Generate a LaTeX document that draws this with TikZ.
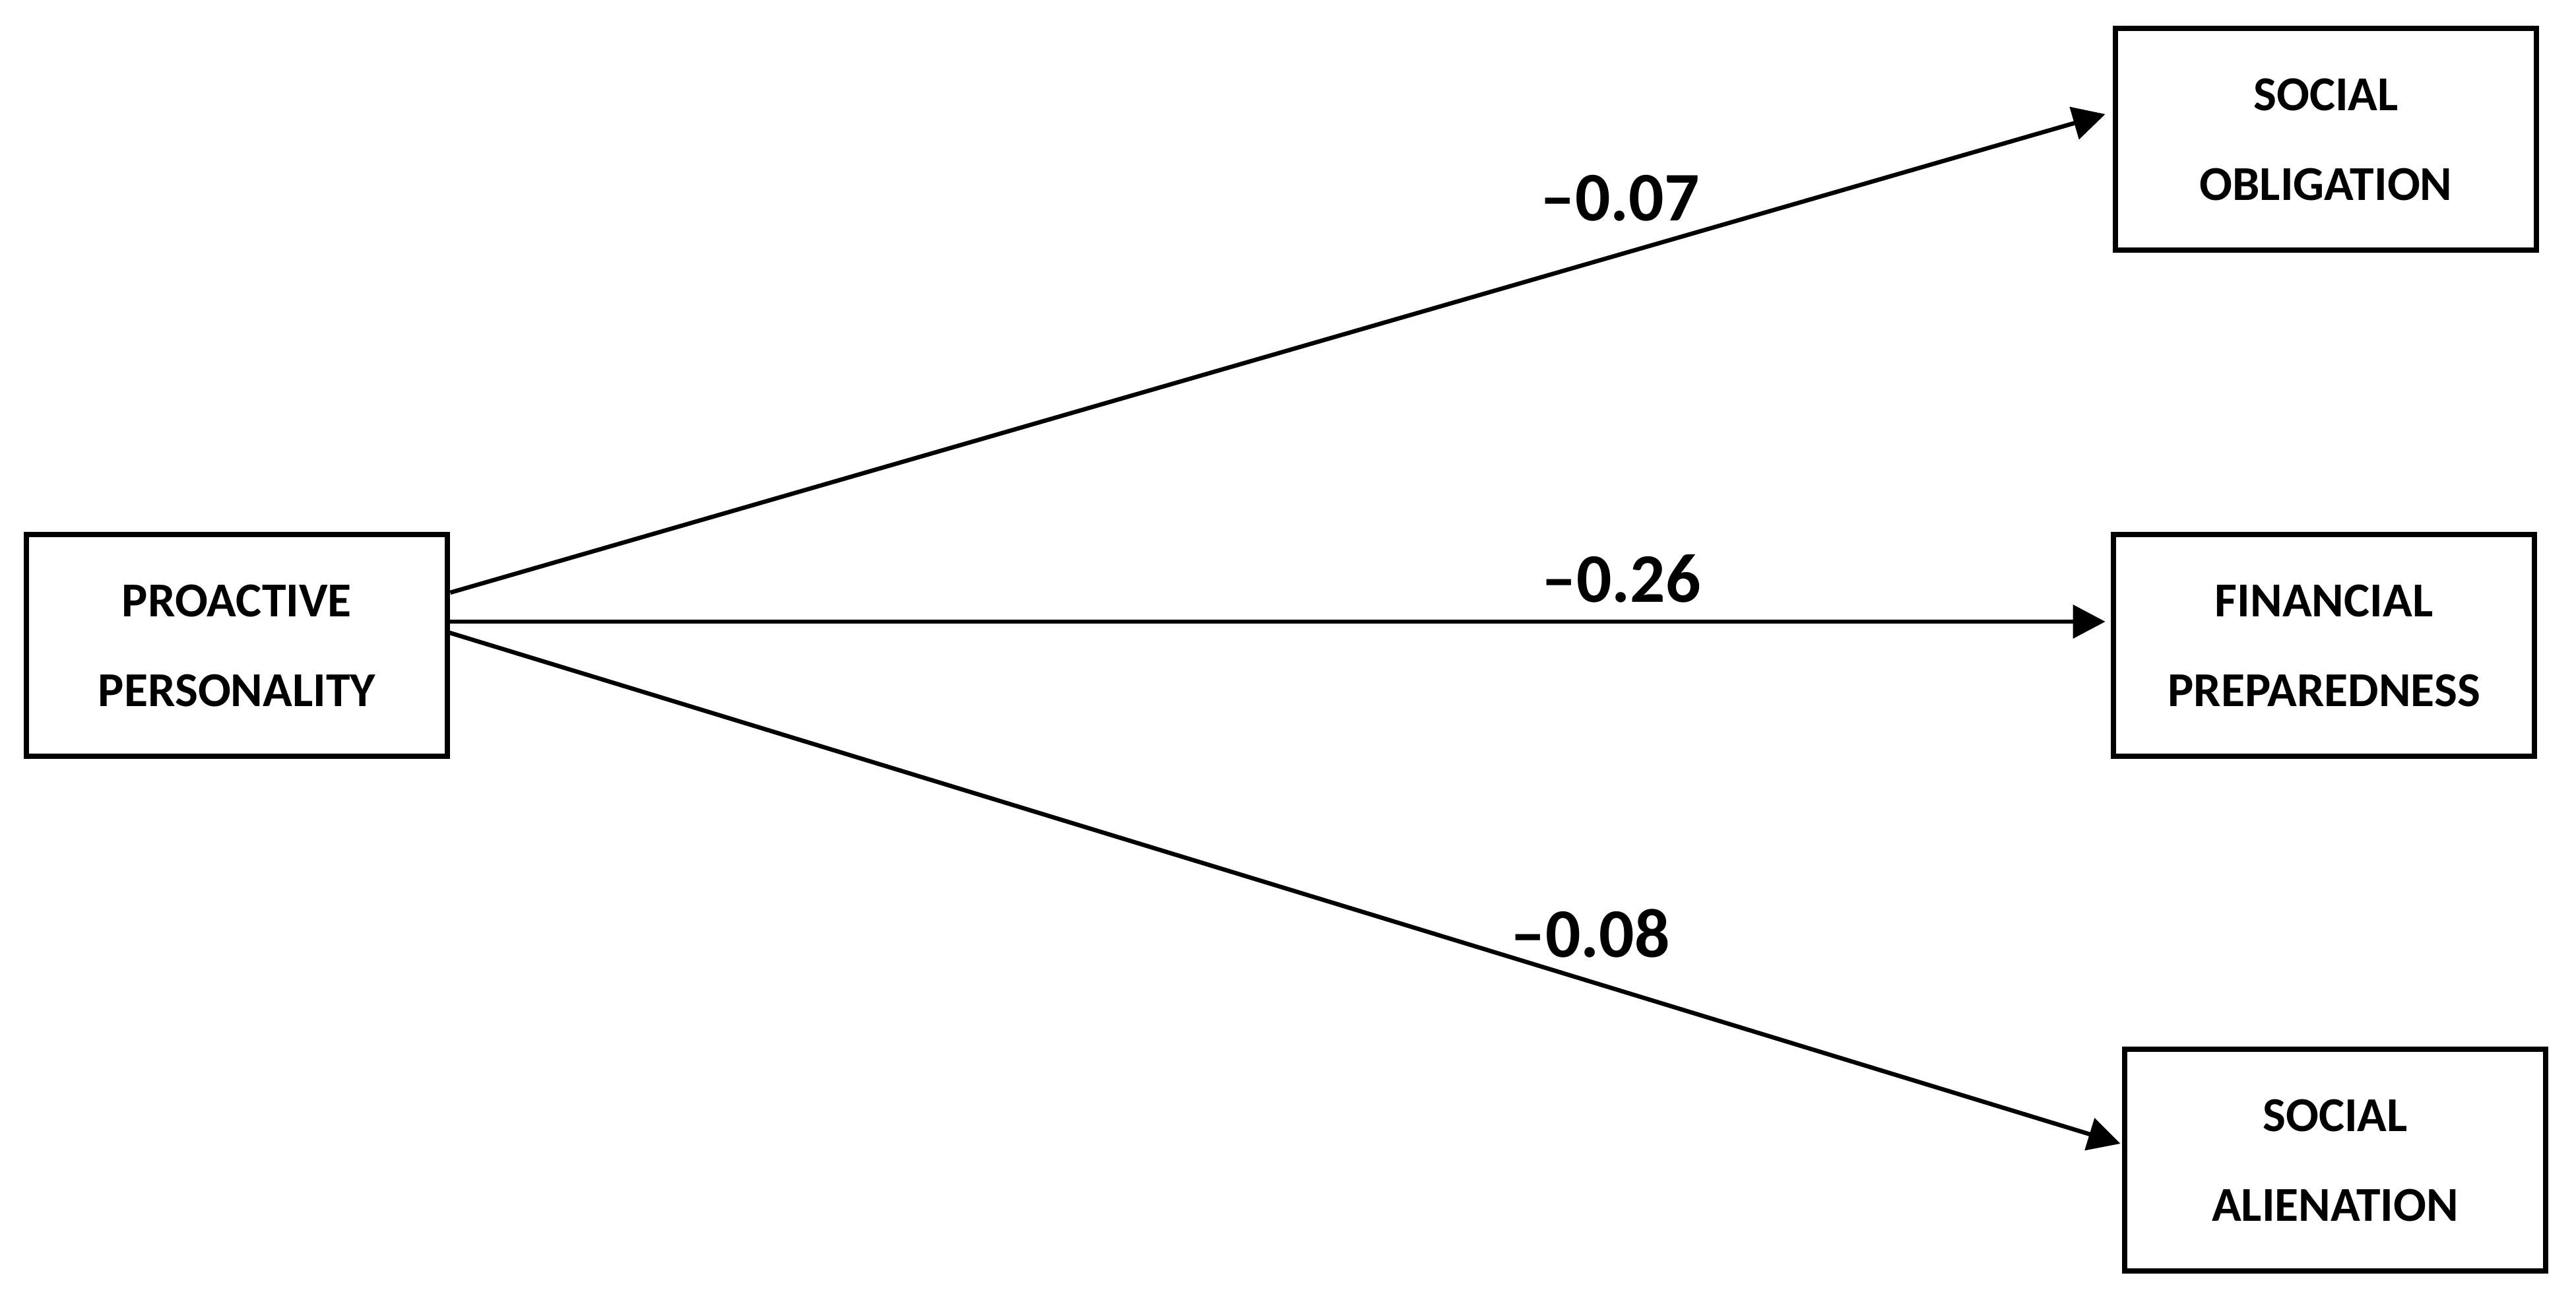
\documentclass[tikz,border=0pt]{standalone}
\usepackage{fontspec}
\setmainfont{Carlito}
\usetikzlibrary{arrows.meta, positioning}

\begin{document}
\begin{tikzpicture}[
    box/.style={rectangle, draw=black, line width=2.5pt, minimum width=6.38cm, minimum height=3.36cm, align=center, inner sep=0pt, text depth=-0.14cm, font=\bfseries\fontsize{21}{38.7}\selectfont},
    coef/.style={inner sep=0pt, font=\bfseries\fontsize{30}{36}\selectfont},
    link/.style={line width=1.85pt, -{Triangle[length=0.49cm, width=0.5cm]}}
]
    \useasboundingbox (0, 0) rectangle (39.04, -19.69);

    \node[box] (pp) at (3.59, -9.78) {PROACTIVE\\PERSONALITY};
    \node[box] (so) at (35.25, -2.11) {SOCIAL\\OBLIGATION};
    \node[box] (fp) at (35.22, -9.78) {FINANCIAL\\PREPAREDNESS};
    \node[box] (sa) at (35.39, -17.58) {SOCIAL\\ALIENATION};

    \draw[link] ([yshift=0.80cm]pp.east) -- ([xshift=-0.11cm, yshift=0.38cm]so.west);
    \draw[link] ([yshift=0.36cm]pp.east) -- ([xshift=-0.08cm, yshift=0.36cm]fp.west);
    \draw[link] ([xshift=-0.07cm, yshift=0.21cm]pp.east) -- ([xshift=-0.02cm, yshift=0.25cm]sa.west);

    \node[coef] (c1) at (24.55, -3.00) {–0.07};
    \node[coef] (c2) at (24.57, -8.77) {–0.26};
    \node[coef] (c3) at (24.10, -14.14) {–0.08};
\end{tikzpicture}
\end{document}
